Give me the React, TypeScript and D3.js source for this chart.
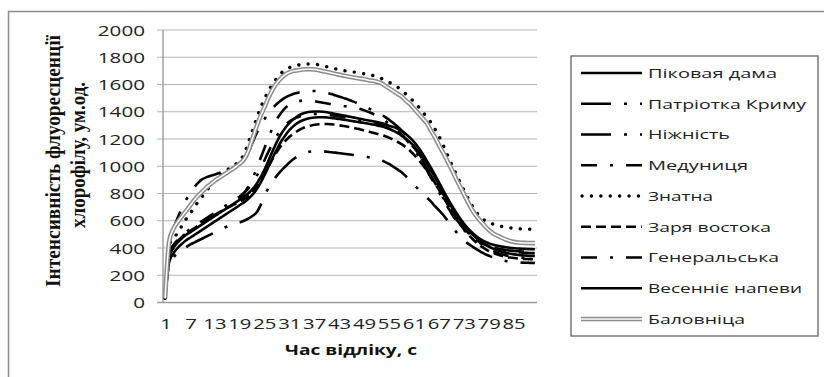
import React from 'react';
import * as d3 from 'd3';

const categories: number[] = d3.range(1, 91);
const xTickLabels = [1, 7, 13, 19, 25, 31, 37, 43, 49, 55, 61, 67, 73, 79, 85];
const yTicks = [0, 200, 400, 600, 800, 1000, 1200, 1400, 1600, 1800, 2000];

const seriesNames = [
  'Піковая дама',
  'Патріотка Криму',
  'Ніжність',
  'Медуниця',
  'Знатна',
  'Заря востока',
  'Генеральська',
  'Весенніє напеви',
  'Баловніца',
];

const pikovaDama = [
  30, 330, 400, 440, 470, 495, 515, 535, 555, 575,
  595, 615, 635, 655, 675, 695, 715, 735, 755, 775,
  800, 830, 870, 920, 980, 1050, 1120, 1185, 1240, 1285,
  1320, 1348, 1370, 1385, 1395, 1400, 1402, 1402, 1400, 1396,
  1390, 1384, 1378, 1372, 1366, 1360, 1354, 1348, 1342, 1336,
  1330, 1325, 1318, 1308, 1296, 1288, 1275, 1258, 1235, 1208,
  1175, 1135, 1090, 1040, 988, 933, 877, 820, 765, 712,
  662, 616, 575, 540, 510, 485, 464, 447, 434, 424,
  416, 410, 405, 401, 398, 396, 394, 393, 392, 391,
];
const patriotka = [
  30, 430, 540, 620, 690, 750, 800, 845, 880, 905,
  920, 930, 940, 950, 960, 970, 985, 1000, 1020, 1050,
  1100, 1170, 1240, 1300, 1350, 1395, 1430, 1460, 1485, 1505,
  1520, 1532, 1540, 1546, 1550, 1552, 1552, 1550, 1545, 1538,
  1530, 1520, 1510, 1500, 1490, 1478, 1466, 1452, 1440, 1425,
  1410, 1395, 1380, 1360, 1340, 1315, 1290, 1260, 1225, 1185,
  1140, 1090, 1040, 985, 930, 875, 820, 765, 710, 660,
  615, 575, 540, 510, 485, 462, 443, 428, 415, 405,
  397, 390, 385, 381, 378, 376, 374, 373, 372, 372,
];
const nizhnist = [
  30, 280, 330, 360, 385, 405, 425, 440, 455, 470,
  485, 500, 515, 530, 545, 558, 568, 578, 588, 600,
  615, 635, 660, 715, 785, 850, 895, 935, 970, 1000,
  1030, 1055, 1075, 1090, 1100, 1108, 1112, 1112, 1110, 1107,
  1103, 1100, 1096, 1092, 1088, 1084, 1080, 1076, 1072, 1066,
  1060, 1055, 1045, 1030, 1015, 995, 975, 955, 925, 890,
  860, 830, 800, 770, 740, 705, 675, 640, 600, 560,
  520, 485, 455, 430, 410, 390, 372, 355, 342, 330,
  320, 312, 305, 300, 297, 295, 293, 292, 291, 290,
];
const medunytsia = [
  30, 380, 420, 450, 475, 500, 520, 540, 560, 580,
  600, 620, 640, 660, 680, 700, 720, 740, 765, 800,
  850, 910, 980, 1060, 1140, 1220, 1290, 1350, 1395, 1430,
  1455, 1470, 1478, 1482, 1483, 1482, 1478, 1472, 1466, 1460,
  1455, 1450, 1446, 1442, 1438, 1433, 1428, 1420, 1410, 1398,
  1385, 1370, 1352, 1332, 1310, 1285, 1258, 1228, 1195, 1160,
  1120, 1075, 1025, 970, 915, 860, 805, 750, 700, 650,
  605, 565, 530, 500, 475, 455, 438, 424, 412, 402,
  393, 386, 380, 375, 371, 368, 366, 364, 363, 362,
];
const znatna = [
  30, 420, 470, 510, 560, 610, 650, 700, 740, 780,
  820, 860, 895, 925, 950, 975, 995, 1015, 1040, 1090,
  1170, 1260, 1350, 1430, 1500, 1560, 1610, 1650, 1685, 1710,
  1725, 1735, 1742, 1748, 1750, 1750, 1748, 1745, 1738, 1730,
  1722, 1715, 1708, 1702, 1697, 1693, 1689, 1684, 1678, 1672,
  1666, 1658, 1645, 1630, 1615, 1600, 1580, 1555, 1528, 1500,
  1470, 1435, 1398, 1360, 1320, 1270, 1215, 1150, 1080, 1010,
  945, 880, 820, 760, 705, 660, 625, 600, 585, 575,
  565, 558, 552, 548, 545, 542, 540, 540, 538, 538,
];
const zariaVostoka = [
  30, 350, 410, 450, 480, 505, 525, 545, 565, 585,
  605, 625, 645, 662, 678, 694, 710, 725, 740, 758,
  780, 810, 845, 890, 945, 1005, 1060, 1110, 1152, 1188,
  1218, 1242, 1262, 1278, 1290, 1298, 1304, 1308, 1310, 1310,
  1308, 1305, 1300, 1295, 1290, 1284, 1277, 1270, 1262, 1254,
  1246, 1238, 1230, 1220, 1208, 1194, 1178, 1160, 1138, 1112,
  1082, 1048, 1010, 968, 922, 873, 822, 770, 718, 668,
  620, 575, 535, 498, 466, 438, 414, 394, 377, 363,
  352, 343, 336, 330, 326, 323, 321, 319, 318, 317,
];
const heneralska = [
  30, 360, 420, 460, 490, 515, 538, 560, 580, 600,
  620, 640, 660, 680, 700, 720, 740, 760, 780, 805,
  835, 875, 925, 985, 1050, 1115, 1175, 1228, 1272, 1305,
  1330, 1348, 1362, 1372, 1378, 1382, 1384, 1384, 1382, 1379,
  1375, 1371, 1366, 1361, 1356, 1350, 1344, 1338, 1332, 1325,
  1318, 1310, 1301, 1290, 1277, 1262, 1244, 1222, 1196, 1166,
  1132, 1093, 1050, 1003, 953, 900, 846, 792, 738, 686,
  637, 592, 551, 515, 483, 455, 431, 410, 392, 377,
  364, 354, 346, 340, 335, 331, 328, 326, 324, 323,
];
const vesenniNapevy = [
  30, 300, 360, 400, 430, 455, 475, 495, 515, 535,
  555, 575, 595, 615, 635, 655, 675, 695, 715, 735,
  760, 790, 830, 880, 940, 1005, 1070, 1130, 1185, 1230,
  1268, 1298, 1320, 1336, 1347, 1354, 1358, 1360, 1360, 1358,
  1355, 1351, 1347, 1342, 1337, 1332, 1327, 1322, 1317, 1312,
  1306, 1300, 1293, 1284, 1273, 1260, 1244, 1225, 1202, 1175,
  1143, 1106, 1064, 1018, 968, 915, 860, 805, 750, 698,
  650, 605, 565, 530, 498, 470, 446, 426, 409, 395,
  383, 373, 365, 358, 353, 349, 346, 344, 342, 341,
];
const balovnitsa = [
  30, 450, 540, 590, 630, 670, 710, 750, 785, 815,
  845, 870, 895, 915, 935, 955, 975, 995, 1020, 1050,
  1110, 1200, 1290, 1370, 1440, 1510, 1570, 1615, 1650, 1675,
  1690, 1700, 1705, 1710, 1712, 1712, 1710, 1705, 1698, 1692,
  1685, 1678, 1671, 1665, 1659, 1653, 1648, 1643, 1638, 1632,
  1627, 1620, 1610, 1590, 1570, 1550, 1530, 1510, 1480, 1455,
  1420, 1385, 1350, 1315, 1260, 1210, 1150, 1095, 1035, 975,
  910, 850, 790, 730, 675, 630, 595, 560, 530, 505,
  490, 475, 462, 452, 445, 440, 438, 437, 436, 436,
];

const seriesValues = [
  pikovaDama, patriotka, nizhnist, medunytsia, znatna,
  zariaVostoka, heneralska, vesenniNapevy, balovnitsa,
];

type Style = { dash?: string; width: number; cap?: 'round' | 'butt'; double?: boolean };
const styles: Style[] = [
  { width: 2.6 },
  { dash: '30 13 3 13', width: 2.6 },
  { dash: '30 13 3 13', width: 2.6 },
  { dash: '16 13 3 13', width: 2.6 },
  { dash: '0.1 9.3', width: 3.4, cap: 'round' },
  { dash: '10 5', width: 2.6 },
  { dash: '16 13 3 13', width: 2.6 },
  { width: 2.6 },
  { width: 4.6, double: true },
];
const legendWidths = [129, 158, 82, 100, 65, 123, 131, 154, 97];

export default function App() {
  const W = 824;
  const H = 377;
  const x0 = 163, x1 = 537, yTop = 30, yBot = 302.5;
  const x = d3.scalePoint<number>().domain(categories).range([x0, x1]).padding(0.5);
  const y = d3.scaleLinear().domain([0, 2000]).range([yBot, yTop]);
  const line = d3
    .line<number>()
    .x((_d, i) => x(categories[i]) as number)
    .y((d) => y(d))
    .curve(d3.curveMonotoneX);

  const sans = "'Open Sans', 'DejaVu Sans', sans-serif";
  const serif = "'Liberation Serif', 'DejaVu Serif', serif";
  const legTop = 73, legStep = 30.75;

  return (
    <svg
      width={W}
      height={H}
      viewBox={`0 0 ${W} ${H}`}
      style={{ position: 'absolute', left: 0, top: 0, display: 'block', background: '#fff' }}
    >
      <rect x={0} y={0} width={W} height={H} fill="#fff" />
      {/* outer frame */}
      <line x1={8} y1={11.5} x2={W} y2={11.5} stroke="#8a8a8a" strokeWidth={1.5} />
      <line x1={8.5} y1={11} x2={8.5} y2={H} stroke="#8a8a8a" strokeWidth={1.5} />

      {/* gridlines */}
      {yTicks.map((t) => (
        <line
          key={'g' + t}
          x1={157}
          x2={x1}
          y1={y(t)}
          y2={y(t)}
          stroke={t === 0 ? '#9a9a9a' : '#b4b4b4'}
          strokeWidth={t === 0 ? 1.4 : 1.1}
        />
      ))}
      <line x1={x0} x2={x0} y1={yTop} y2={yBot} stroke="#9a9a9a" strokeWidth={1.4} />

      {/* y tick labels */}
      {yTicks.map((t) => {
        const s = String(t);
        const len = s.length * 11.8;
        return (
          <text
            key={'yl' + t}
            x={145 - len}
            y={y(t) + 5.5}
            fontFamily={sans}
            fontSize={15}
            fill="#222"
            textLength={len}
            lengthAdjust="spacingAndGlyphs"
          >
            {s}
          </text>
        );
      })}

      {/* x tick labels */}
      {xTickLabels.map((c) => {
        const s = String(c);
        const len = s.length * 11.6;
        const cx = x(c) as number;
        return (
          <text
            key={'xl' + c}
            x={cx - len / 2 + (s.length === 1 ? 1 : 0)}
            y={329}
            fontFamily={sans}
            fontSize={14.5}
            fill="#222"
            textLength={len}
            lengthAdjust="spacingAndGlyphs"
          >
            {s}
          </text>
        );
      })}

      {/* axis titles */}
      <text
        x={285}
        y={355}
        fontFamily={sans}
        fontWeight="bold"
        fontSize={13.5}
        fill="#111"
        textLength={132}
        lengthAdjust="spacingAndGlyphs"
      >
        Час відліку, с
      </text>
      <g transform="translate(60,161) rotate(-90)">
        <text
          x={-126}
          y={0}
          fontFamily={serif}
          fontWeight="bold"
          fontSize={22}
          fill="#111"
          textLength={252}
          lengthAdjust="spacingAndGlyphs"
        >
          Інтенсивність флуоресценції
        </text>
      </g>
      <g transform="translate(85,155) rotate(-90)">
        <text
          x={-73}
          y={0}
          fontFamily={serif}
          fontWeight="bold"
          fontSize={22}
          fill="#111"
          textLength={146}
          lengthAdjust="spacingAndGlyphs"
        >
          хлорофілу, ум.од.
        </text>
      </g>

      {/* series */}
      {seriesValues.map((vals, k) => {
        const st = styles[k];
        const d = line(vals) || '';
        if (st.double) {
          return (
            <g key={'s' + k}>
              <path d={d} fill="none" stroke="#8c8c8c" strokeWidth={st.width} strokeLinejoin="round" />
              <path d={d} fill="none" stroke="#fff" strokeWidth={1.5} strokeLinejoin="round" />
            </g>
          );
        }
        return (
          <path
            key={'s' + k}
            d={d}
            fill="none"
            stroke="#000"
            strokeWidth={st.width}
            strokeDasharray={st.dash}
            strokeLinecap={st.cap || 'butt'}
            strokeLinejoin="round"
          />
        );
      })}

      {/* legend */}
      <rect x={571} y={56} width={247} height={280} fill="#fff" stroke="#555" strokeWidth={1.2} />
      {seriesNames.map((name, k) => {
        const st = styles[k];
        const ly = legTop + k * legStep;
        return (
          <g key={'lg' + k}>
            {st.double ? (
              <>
                <line x1={581} x2={642} y1={ly} y2={ly} stroke="#8c8c8c" strokeWidth={4.6} />
                <line x1={581} x2={642} y1={ly} y2={ly} stroke="#fff" strokeWidth={1.5} />
              </>
            ) : (
              <line
                x1={st.cap === 'round' ? 582 : 581}
                x2={642}
                y1={ly}
                y2={ly}
                stroke="#000"
                strokeWidth={st.width}
                strokeDasharray={st.dash}
                strokeLinecap={st.cap || 'butt'}
              />
            )}
            <text
              x={648}
              y={ly + 4.8}
              fontFamily={sans}
              fontSize={13.5}
              fill="#222"
              textLength={legendWidths[k]}
              lengthAdjust="spacingAndGlyphs"
            >
              {name}
            </text>
          </g>
        );
      })}
    </svg>
  );
}
